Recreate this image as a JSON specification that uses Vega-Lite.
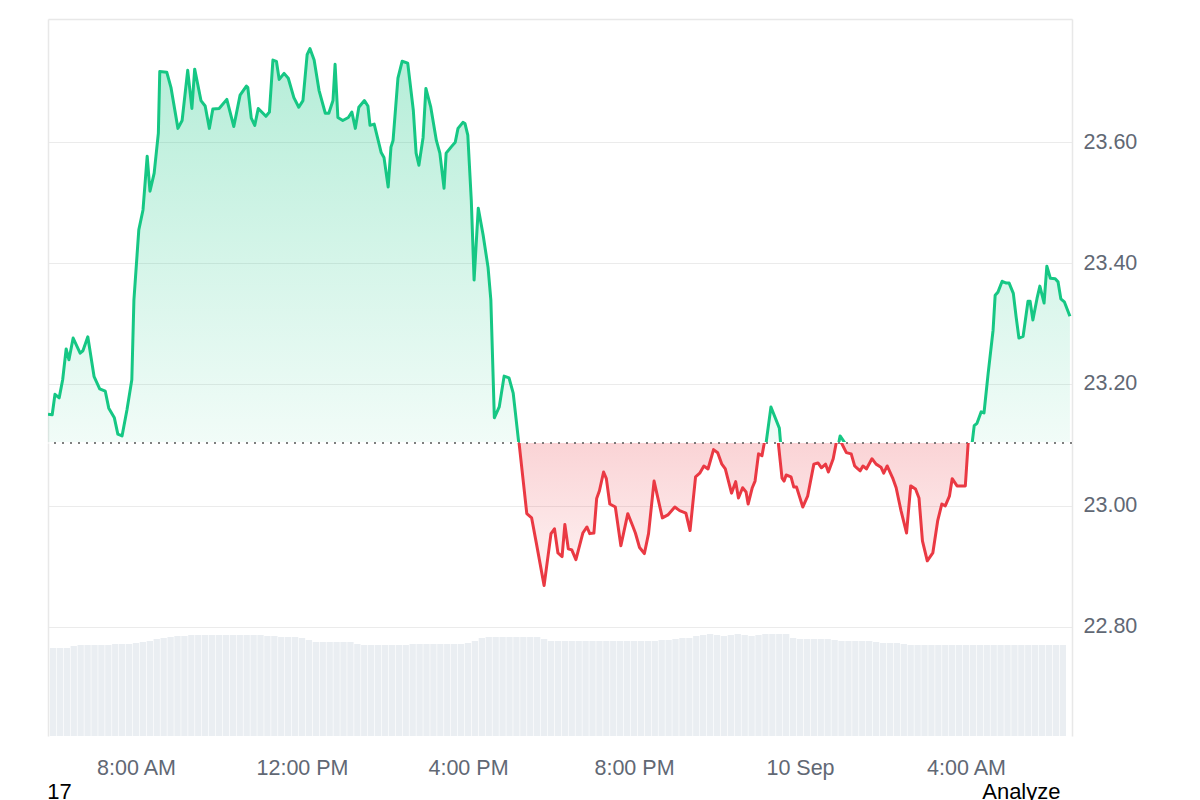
{
  "$schema": "https://vega.github.io/schema/vega-lite/v6.json",
  "padding": {"left": 47, "top": 19, "right": 0, "bottom": 0},
  "background": "white",
  "spacing": 0,
  "config": {
    "view": {"stroke": null},
    "axis": {"labelFont": "Liberation Sans", "titleFont": "Liberation Sans"},
    "title": {"font": "Liberation Sans"}
  },
  "title": {"text": "17", "orient": "bottom", "anchor": "start", "fontSize": 22, "fontWeight": "normal", "color": "#000000", "offset": 0, "dy": -21},
  "datasets": {
    "ref": [{"open": 23.104}],
    "price": [
      {"t":"2024-09-09T06:00","p":23.150},{"t":"2024-09-09T06:06","p":23.149},{"t":"2024-09-09T06:10","p":23.183},{"t":"2024-09-09T06:16","p":23.177},
      {"t":"2024-09-09T06:21","p":23.207},{"t":"2024-09-09T06:26","p":23.258},{"t":"2024-09-09T06:30","p":23.240},{"t":"2024-09-09T06:36","p":23.276},
      {"t":"2024-09-09T06:46","p":23.251},{"t":"2024-09-09T06:50","p":23.255},{"t":"2024-09-09T06:57","p":23.278},{"t":"2024-09-09T07:06","p":23.212},
      {"t":"2024-09-09T07:14","p":23.192},{"t":"2024-09-09T07:22","p":23.188},{"t":"2024-09-09T07:27","p":23.160},{"t":"2024-09-09T07:35","p":23.144},
      {"t":"2024-09-09T07:40","p":23.117},{"t":"2024-09-09T07:46","p":23.114},{"t":"2024-09-09T07:53","p":23.157},{"t":"2024-09-09T08:00","p":23.207},
      {"t":"2024-09-09T08:03","p":23.339},{"t":"2024-09-09T08:10","p":23.455},{"t":"2024-09-09T08:16","p":23.488},{"t":"2024-09-09T08:22","p":23.577},
      {"t":"2024-09-09T08:26","p":23.519},{"t":"2024-09-09T08:32","p":23.549},{"t":"2024-09-09T08:38","p":23.615},{"t":"2024-09-09T08:40","p":23.717},
      {"t":"2024-09-09T08:50","p":23.716},{"t":"2024-09-09T08:56","p":23.691},{"t":"2024-09-09T09:06","p":23.623},{"t":"2024-09-09T09:12","p":23.636},
      {"t":"2024-09-09T09:20","p":23.719},{"t":"2024-09-09T09:26","p":23.656},{"t":"2024-09-09T09:30","p":23.721},{"t":"2024-09-09T09:39","p":23.669},
      {"t":"2024-09-09T09:45","p":23.660},{"t":"2024-09-09T09:51","p":23.623},{"t":"2024-09-09T09:56","p":23.655},{"t":"2024-09-09T10:05","p":23.656},
      {"t":"2024-09-09T10:16","p":23.671},{"t":"2024-09-09T10:26","p":23.626},{"t":"2024-09-09T10:35","p":23.678},{"t":"2024-09-09T10:44","p":23.693},
      {"t":"2024-09-09T10:46","p":23.691},{"t":"2024-09-09T10:51","p":23.640},{"t":"2024-09-09T10:56","p":23.628},{"t":"2024-09-09T11:01","p":23.656},
      {"t":"2024-09-09T11:12","p":23.643},{"t":"2024-09-09T11:17","p":23.650},{"t":"2024-09-09T11:22","p":23.736},{"t":"2024-09-09T11:27","p":23.734},
      {"t":"2024-09-09T11:31","p":23.704},{"t":"2024-09-09T11:38","p":23.714},{"t":"2024-09-09T11:44","p":23.706},{"t":"2024-09-09T11:52","p":23.674},
      {"t":"2024-09-09T11:59","p":23.658},{"t":"2024-09-09T12:05","p":23.669},{"t":"2024-09-09T12:11","p":23.745},{"t":"2024-09-09T12:15","p":23.755},
      {"t":"2024-09-09T12:21","p":23.736},{"t":"2024-09-09T12:28","p":23.686},{"t":"2024-09-09T12:37","p":23.648},{"t":"2024-09-09T12:42","p":23.648},
      {"t":"2024-09-09T12:48","p":23.669},{"t":"2024-09-09T12:51","p":23.729},{"t":"2024-09-09T12:55","p":23.641},{"t":"2024-09-09T13:02","p":23.636},
      {"t":"2024-09-09T13:10","p":23.641},{"t":"2024-09-09T13:15","p":23.650},{"t":"2024-09-09T13:20","p":23.623},{"t":"2024-09-09T13:25","p":23.658},
      {"t":"2024-09-09T13:33","p":23.669},{"t":"2024-09-09T13:38","p":23.660},{"t":"2024-09-09T13:41","p":23.628},{"t":"2024-09-09T13:47","p":23.630},
      {"t":"2024-09-09T13:57","p":23.583},{"t":"2024-09-09T14:01","p":23.575},{"t":"2024-09-09T14:07","p":23.526},{"t":"2024-09-09T14:11","p":23.592},
      {"t":"2024-09-09T14:14","p":23.603},{"t":"2024-09-09T14:21","p":23.706},{"t":"2024-09-09T14:27","p":23.734},{"t":"2024-09-09T14:35","p":23.731},
      {"t":"2024-09-09T14:43","p":23.653},{"t":"2024-09-09T14:47","p":23.582},{"t":"2024-09-09T14:51","p":23.562},{"t":"2024-09-09T14:57","p":23.608},
      {"t":"2024-09-09T15:01","p":23.689},{"t":"2024-09-09T15:08","p":23.658},{"t":"2024-09-09T15:16","p":23.603},{"t":"2024-09-09T15:21","p":23.582},
      {"t":"2024-09-09T15:27","p":23.524},{"t":"2024-09-09T15:30","p":23.582},{"t":"2024-09-09T15:37","p":23.592},{"t":"2024-09-09T15:43","p":23.600},
      {"t":"2024-09-09T15:47","p":23.623},{"t":"2024-09-09T15:54","p":23.633},{"t":"2024-09-09T15:57","p":23.631},{"t":"2024-09-09T16:01","p":23.612},
      {"t":"2024-09-09T16:06","p":23.504},{"t":"2024-09-09T16:10","p":23.372},{"t":"2024-09-09T16:16","p":23.491},{"t":"2024-09-09T16:23","p":23.446},
      {"t":"2024-09-09T16:30","p":23.393},{"t":"2024-09-09T16:34","p":23.339},{"t":"2024-09-09T16:39","p":23.144},{"t":"2024-09-09T16:46","p":23.162},
      {"t":"2024-09-09T16:53","p":23.213},{"t":"2024-09-09T17:00","p":23.210},{"t":"2024-09-09T17:06","p":23.185},{"t":"2024-09-09T17:14","p":23.102},
      {"t":"2024-09-09T17:25","p":22.987},{"t":"2024-09-09T17:32","p":22.980},{"t":"2024-09-09T17:39","p":22.937},{"t":"2024-09-09T17:50","p":22.868},
      {"t":"2024-09-09T18:00","p":22.954},{"t":"2024-09-09T18:05","p":22.962},{"t":"2024-09-09T18:10","p":22.922},{"t":"2024-09-09T18:16","p":22.916},
      {"t":"2024-09-09T18:20","p":22.969},{"t":"2024-09-09T18:25","p":22.929},{"t":"2024-09-09T18:30","p":22.927},{"t":"2024-09-09T18:36","p":22.911},
      {"t":"2024-09-09T18:46","p":22.955},{"t":"2024-09-09T18:52","p":22.965},{"t":"2024-09-09T18:56","p":22.954},{"t":"2024-09-09T19:02","p":22.955},
      {"t":"2024-09-09T19:06","p":23.012},{"t":"2024-09-09T19:10","p":23.025},{"t":"2024-09-09T19:16","p":23.056},{"t":"2024-09-09T19:20","p":23.045},
      {"t":"2024-09-09T19:25","p":23.003},{"t":"2024-09-09T19:33","p":22.998},{"t":"2024-09-09T19:41","p":22.934},{"t":"2024-09-09T19:51","p":22.987},
      {"t":"2024-09-09T19:58","p":22.967},{"t":"2024-09-09T20:02","p":22.955},{"t":"2024-09-09T20:08","p":22.931},{"t":"2024-09-09T20:15","p":22.921},
      {"t":"2024-09-09T20:21","p":22.954},{"t":"2024-09-09T20:29","p":23.041},{"t":"2024-09-09T20:41","p":22.980},{"t":"2024-09-09T20:49","p":22.985},
      {"t":"2024-09-09T20:59","p":22.998},{"t":"2024-09-09T21:06","p":22.992},{"t":"2024-09-09T21:15","p":22.988},{"t":"2024-09-09T21:21","p":22.959},
      {"t":"2024-09-09T21:29","p":23.048},{"t":"2024-09-09T21:35","p":23.054},{"t":"2024-09-09T21:41","p":23.066},{"t":"2024-09-09T21:47","p":23.061},
      {"t":"2024-09-09T21:55","p":23.093},{"t":"2024-09-09T22:01","p":23.088},{"t":"2024-09-09T22:07","p":23.069},{"t":"2024-09-09T22:12","p":23.061},
      {"t":"2024-09-09T22:21","p":23.021},{"t":"2024-09-09T22:27","p":23.040},{"t":"2024-09-09T22:31","p":23.013},{"t":"2024-09-09T22:37","p":23.030},
      {"t":"2024-09-09T22:42","p":23.023},{"t":"2024-09-09T22:45","p":23.003},{"t":"2024-09-09T22:51","p":23.030},{"t":"2024-09-09T22:55","p":23.041},
      {"t":"2024-09-09T23:00","p":23.086},{"t":"2024-09-09T23:05","p":23.083},{"t":"2024-09-09T23:08","p":23.102},{"t":"2024-09-09T23:15","p":23.162},
      {"t":"2024-09-09T23:27","p":23.127},{"t":"2024-09-09T23:29","p":23.100},{"t":"2024-09-09T23:34","p":23.046},{"t":"2024-09-09T23:37","p":23.041},
      {"t":"2024-09-09T23:40","p":23.051},{"t":"2024-09-09T23:47","p":23.048},{"t":"2024-09-09T23:51","p":23.031},{"t":"2024-09-09T23:55","p":23.031},
      {"t":"2024-09-10T00:04","p":22.998},{"t":"2024-09-10T00:11","p":23.016},{"t":"2024-09-10T00:20","p":23.069},{"t":"2024-09-10T00:26","p":23.071},
      {"t":"2024-09-10T00:31","p":23.063},{"t":"2024-09-10T00:37","p":23.069},{"t":"2024-09-10T00:41","p":23.056},{"t":"2024-09-10T00:48","p":23.078},
      {"t":"2024-09-10T00:54","p":23.114},{"t":"2024-09-10T01:00","p":23.104},{"t":"2024-09-10T01:07","p":23.088},{"t":"2024-09-10T01:14","p":23.086},
      {"t":"2024-09-10T01:19","p":23.066},{"t":"2024-09-10T01:22","p":23.063},{"t":"2024-09-10T01:27","p":23.058},{"t":"2024-09-10T01:31","p":23.066},
      {"t":"2024-09-10T01:36","p":23.061},{"t":"2024-09-10T01:44","p":23.078},{"t":"2024-09-10T01:50","p":23.069},{"t":"2024-09-10T01:57","p":23.064},
      {"t":"2024-09-10T02:01","p":23.054},{"t":"2024-09-10T02:06","p":23.066},{"t":"2024-09-10T02:14","p":23.046},{"t":"2024-09-10T02:19","p":23.030},
      {"t":"2024-09-10T02:26","p":22.992},{"t":"2024-09-10T02:34","p":22.955},{"t":"2024-09-10T02:40","p":23.033},{"t":"2024-09-10T02:47","p":23.028},
      {"t":"2024-09-10T02:52","p":23.013},{"t":"2024-09-10T02:57","p":22.942},{"t":"2024-09-10T03:04","p":22.909},{"t":"2024-09-10T03:12","p":22.922},
      {"t":"2024-09-10T03:19","p":22.975},{"t":"2024-09-10T03:25","p":23.003},{"t":"2024-09-10T03:30","p":23.000},{"t":"2024-09-10T03:36","p":23.016},
      {"t":"2024-09-10T03:40","p":23.045},{"t":"2024-09-10T03:47","p":23.033},{"t":"2024-09-10T03:59","p":23.033},{"t":"2024-09-10T04:03","p":23.102},
      {"t":"2024-09-10T04:06","p":23.131},{"t":"2024-09-10T04:10","p":23.135},{"t":"2024-09-10T04:16","p":23.154},{"t":"2024-09-10T04:20","p":23.152},
      {"t":"2024-09-10T04:26","p":23.218},{"t":"2024-09-10T04:33","p":23.289},{"t":"2024-09-10T04:36","p":23.347},{"t":"2024-09-10T04:40","p":23.352},
      {"t":"2024-09-10T04:46","p":23.370},{"t":"2024-09-10T04:52","p":23.367},{"t":"2024-09-10T04:56","p":23.367},{"t":"2024-09-10T05:02","p":23.350},
      {"t":"2024-09-10T05:06","p":23.311},{"t":"2024-09-10T05:10","p":23.276},{"t":"2024-09-10T05:16","p":23.279},{"t":"2024-09-10T05:23","p":23.337},
      {"t":"2024-09-10T05:26","p":23.337},{"t":"2024-09-10T05:30","p":23.306},{"t":"2024-09-10T05:36","p":23.342},{"t":"2024-09-10T05:40","p":23.362},
      {"t":"2024-09-10T05:46","p":23.334},{"t":"2024-09-10T05:50","p":23.395},{"t":"2024-09-10T05:55","p":23.375},{"t":"2024-09-10T06:02","p":23.374},
      {"t":"2024-09-10T06:06","p":23.369},{"t":"2024-09-10T06:10","p":23.341},{"t":"2024-09-10T06:15","p":23.336},{"t":"2024-09-10T06:23","p":23.312}
    ],
    "volume": [
      {"t":"2024-09-09T06:00","v":88},{"t":"2024-09-09T06:10","v":88},{"t":"2024-09-09T06:20","v":88},{"t":"2024-09-09T06:30","v":90},
      {"t":"2024-09-09T06:40","v":91},{"t":"2024-09-09T06:50","v":91},{"t":"2024-09-09T07:00","v":91},{"t":"2024-09-09T07:10","v":91},
      {"t":"2024-09-09T07:20","v":91},{"t":"2024-09-09T07:30","v":92},{"t":"2024-09-09T07:40","v":92},{"t":"2024-09-09T07:50","v":92},
      {"t":"2024-09-09T08:00","v":93},{"t":"2024-09-09T08:10","v":94},{"t":"2024-09-09T08:20","v":95},{"t":"2024-09-09T08:30","v":97},
      {"t":"2024-09-09T08:40","v":98},{"t":"2024-09-09T08:50","v":99},{"t":"2024-09-09T09:00","v":100},{"t":"2024-09-09T09:10","v":100},
      {"t":"2024-09-09T09:20","v":101},{"t":"2024-09-09T09:30","v":101},{"t":"2024-09-09T09:40","v":101},{"t":"2024-09-09T09:50","v":101},
      {"t":"2024-09-09T10:00","v":101},{"t":"2024-09-09T10:10","v":101},{"t":"2024-09-09T10:20","v":101},{"t":"2024-09-09T10:30","v":101},
      {"t":"2024-09-09T10:40","v":101},{"t":"2024-09-09T10:50","v":101},{"t":"2024-09-09T11:00","v":101},{"t":"2024-09-09T11:10","v":100},
      {"t":"2024-09-09T11:20","v":100},{"t":"2024-09-09T11:30","v":99},{"t":"2024-09-09T11:40","v":99},{"t":"2024-09-09T11:50","v":99},
      {"t":"2024-09-09T12:00","v":98},{"t":"2024-09-09T12:10","v":96},{"t":"2024-09-09T12:20","v":94},{"t":"2024-09-09T12:30","v":94},
      {"t":"2024-09-09T12:40","v":94},{"t":"2024-09-09T12:50","v":94},{"t":"2024-09-09T13:00","v":94},{"t":"2024-09-09T13:10","v":94},
      {"t":"2024-09-09T13:20","v":92},{"t":"2024-09-09T13:30","v":91},{"t":"2024-09-09T13:40","v":91},{"t":"2024-09-09T13:50","v":91},
      {"t":"2024-09-09T14:00","v":91},{"t":"2024-09-09T14:10","v":91},{"t":"2024-09-09T14:20","v":91},{"t":"2024-09-09T14:30","v":91},
      {"t":"2024-09-09T14:40","v":92},{"t":"2024-09-09T14:50","v":92},{"t":"2024-09-09T15:00","v":92},{"t":"2024-09-09T15:10","v":92},
      {"t":"2024-09-09T15:20","v":92},{"t":"2024-09-09T15:30","v":92},{"t":"2024-09-09T15:40","v":92},{"t":"2024-09-09T15:50","v":92},
      {"t":"2024-09-09T16:00","v":93},{"t":"2024-09-09T16:10","v":95},{"t":"2024-09-09T16:20","v":98},{"t":"2024-09-09T16:30","v":99},
      {"t":"2024-09-09T16:40","v":99},{"t":"2024-09-09T16:50","v":99},{"t":"2024-09-09T17:00","v":99},{"t":"2024-09-09T17:10","v":99},
      {"t":"2024-09-09T17:20","v":99},{"t":"2024-09-09T17:30","v":99},{"t":"2024-09-09T17:40","v":99},{"t":"2024-09-09T17:50","v":97},
      {"t":"2024-09-09T18:00","v":95},{"t":"2024-09-09T18:10","v":95},{"t":"2024-09-09T18:20","v":95},{"t":"2024-09-09T18:30","v":95},
      {"t":"2024-09-09T18:40","v":95},{"t":"2024-09-09T18:50","v":95},{"t":"2024-09-09T19:00","v":95},{"t":"2024-09-09T19:10","v":95},
      {"t":"2024-09-09T19:20","v":95},{"t":"2024-09-09T19:30","v":95},{"t":"2024-09-09T19:40","v":95},{"t":"2024-09-09T19:50","v":95},
      {"t":"2024-09-09T20:00","v":95},{"t":"2024-09-09T20:10","v":95},{"t":"2024-09-09T20:20","v":95},{"t":"2024-09-09T20:30","v":95},
      {"t":"2024-09-09T20:40","v":96},{"t":"2024-09-09T20:50","v":96},{"t":"2024-09-09T21:00","v":97},{"t":"2024-09-09T21:10","v":98},
      {"t":"2024-09-09T21:20","v":98},{"t":"2024-09-09T21:30","v":100},{"t":"2024-09-09T21:40","v":101},{"t":"2024-09-09T21:50","v":102},
      {"t":"2024-09-09T22:00","v":101},{"t":"2024-09-09T22:10","v":100},{"t":"2024-09-09T22:20","v":101},{"t":"2024-09-09T22:30","v":102},
      {"t":"2024-09-09T22:40","v":101},{"t":"2024-09-09T22:50","v":100},{"t":"2024-09-09T23:00","v":101},{"t":"2024-09-09T23:10","v":102},
      {"t":"2024-09-09T23:20","v":102},{"t":"2024-09-09T23:30","v":102},{"t":"2024-09-09T23:40","v":102},{"t":"2024-09-09T23:50","v":98},
      {"t":"2024-09-10T00:00","v":97},{"t":"2024-09-10T00:10","v":97},{"t":"2024-09-10T00:20","v":97},{"t":"2024-09-10T00:30","v":97},
      {"t":"2024-09-10T00:40","v":97},{"t":"2024-09-10T00:50","v":96},{"t":"2024-09-10T01:00","v":95},{"t":"2024-09-10T01:10","v":95},
      {"t":"2024-09-10T01:20","v":95},{"t":"2024-09-10T01:30","v":95},{"t":"2024-09-10T01:40","v":95},{"t":"2024-09-10T01:50","v":94},
      {"t":"2024-09-10T02:00","v":93},{"t":"2024-09-10T02:10","v":93},{"t":"2024-09-10T02:20","v":93},{"t":"2024-09-10T02:30","v":92},
      {"t":"2024-09-10T02:40","v":91},{"t":"2024-09-10T02:50","v":91},{"t":"2024-09-10T03:00","v":91},{"t":"2024-09-10T03:10","v":91},
      {"t":"2024-09-10T03:20","v":91},{"t":"2024-09-10T03:30","v":91},{"t":"2024-09-10T03:40","v":91},{"t":"2024-09-10T03:50","v":91},
      {"t":"2024-09-10T04:00","v":91},{"t":"2024-09-10T04:10","v":91},{"t":"2024-09-10T04:20","v":91},{"t":"2024-09-10T04:30","v":91},
      {"t":"2024-09-10T04:40","v":91},{"t":"2024-09-10T04:50","v":91},{"t":"2024-09-10T05:00","v":91},{"t":"2024-09-10T05:10","v":91},
      {"t":"2024-09-10T05:20","v":91},{"t":"2024-09-10T05:30","v":91},{"t":"2024-09-10T05:40","v":91},{"t":"2024-09-10T05:50","v":91},
      {"t":"2024-09-10T06:00","v":91},{"t":"2024-09-10T06:10","v":91},{"t":"2024-09-10T06:20","v":91}
    ]
  },
  "vconcat": [
    {
      "width": 1024,
      "height": 423,
      "layer": [
        {
          "data": {"name": "price"},
          "mark": {
            "type": "area",
            "clip": true,
            "fill": {
              "gradient": "linear", "x1": 0, "y1": 0, "x2": 0, "y2": 1,
              "stops": [
                {"offset": 0, "color": "rgba(22,199,132,0.32)"},
                {"offset": 0.734, "color": "rgba(22,199,132,0.06)"},
                {"offset": 1, "color": "rgba(22,199,132,0.06)"}
              ]
            }
          },
          "encoding": {
            "x": {
              "field": "t", "type": "temporal",
              "scale": {"domain": [{"year": 2024, "month": 9, "date": 9, "hours": 6, "minutes": 0}, {"year": 2024, "month": 9, "date": 10, "hours": 6, "minutes": 26}], "nice": false},
              "axis": {"orient": "top", "labels": false, "ticks": false, "grid": false, "domain": true, "domainColor": "#e8e8e8", "domainWidth": 1.5, "title": null}
            },
            "y": {
              "field": "p", "type": "quantitative",
              "scale": {"domain": [23.104, 23.804], "nice": false, "zero": false},
              "axis": {"orient": "right", "values": [23.2, 23.4, 23.6], "format": ".2f", "grid": true, "gridColor": "#ebebeb", "gridWidth": 1, "ticks": false, "domain": true, "domainColor": "#e8e8e8", "domainWidth": 1.5, "labelFontSize": 21.5, "labelColor": "#616874", "labelPadding": 11, "title": null}
            },
            "y2": {"datum": 23.104}
          }
        },
        {
          "data": {"name": "price"},
          "mark": {"type": "line", "clip": true, "color": "#16c784", "strokeWidth": 3, "strokeJoin": "round"},
          "encoding": {
            "x": {"field": "t", "type": "temporal"},
            "y": {
              "field": "p", "type": "quantitative",
              "scale": {"domain": [23.104, 23.804], "nice": false, "zero": false},
              "axis": {"orient": "left", "labels": false, "ticks": false, "grid": false, "domain": true, "domainColor": "#e8e8e8", "domainWidth": 1.5, "title": null}
            }
          }
        }
      ],
      "resolve": {"scale": {"y": "independent"}}
    },
    {
      "width": 1024,
      "height": 293,
      "layer": [
        {
          "data": {"name": "volume"},
          "mark": {"type": "bar", "size": 6.3, "color": "#eaeef2", "clip": true},
          "encoding": {
            "x": {
              "field": "t", "type": "temporal",
              "scale": {"domain": [{"year": 2024, "month": 9, "date": 9, "hours": 6, "minutes": 0}, {"year": 2024, "month": 9, "date": 10, "hours": 6, "minutes": 26}], "nice": false},
              "axis": {
                "orient": "bottom",
                "values": [
                  {"year": 2024, "month": 9, "date": 9, "hours": 8},
                  {"year": 2024, "month": 9, "date": 9, "hours": 12},
                  {"year": 2024, "month": 9, "date": 9, "hours": 16},
                  {"year": 2024, "month": 9, "date": 9, "hours": 20},
                  {"year": 2024, "month": 9, "date": 10, "hours": 0},
                  {"year": 2024, "month": 9, "date": 10, "hours": 4}
                ],
                "labelExpr": "hours(datum.value) == 0 ? timeFormat(datum.value, '%-d %b') : timeFormat(datum.value, '%-I:%M %p')",
                "domain": false, "ticks": false, "grid": false,
                "labelFontSize": 21.5, "labelColor": "#616874", "labelPadding": 21,
                "title": "Analyze", "titleFontSize": 22, "titleFontWeight": "normal", "titleColor": "#000000",
                "titleAnchor": "end", "titleAlign": "right", "titleX": 1012, "titlePadding": 3
              }
            },
            "y": {"field": "v", "type": "quantitative", "scale": {"domain": [0, 293]}, "axis": null}
          }
        },
        {
          "data": {"name": "price"},
          "mark": {
            "type": "area",
            "clip": true,
            "fill": {
              "gradient": "linear", "x1": 0, "y1": 0, "x2": 0, "y2": 1,
              "stops": [
                {"offset": 0, "color": "rgba(234,57,67,0.22)"},
                {"offset": 0.734, "color": "rgba(234,57,67,0.22)"},
                {"offset": 1, "color": "rgba(234,57,67,0.06)"}
              ]
            }
          },
          "encoding": {
            "x": {"field": "t", "type": "temporal"},
            "y": {
              "field": "p", "type": "quantitative",
              "scale": {"domain": [22.619, 23.104], "nice": false, "zero": false},
              "axis": {"orient": "right", "values": [22.8, 23.0], "format": ".2f", "grid": true, "gridColor": "#ebebeb", "gridWidth": 1, "ticks": false, "domain": true, "domainColor": "#e8e8e8", "domainWidth": 1.5, "labelFontSize": 21.5, "labelColor": "#616874", "labelPadding": 11, "title": null}
            },
            "y2": {"datum": 23.104}
          }
        },
        {
          "data": {"name": "ref"},
          "mark": {"type": "rule", "color": "#555555", "strokeWidth": 1.5, "strokeDash": [2, 6]},
          "encoding": {
            "y": {"field": "open", "type": "quantitative", "scale": {"domain": [22.619, 23.104], "nice": false, "zero": false}, "axis": null}
          }
        },
        {
          "data": {"name": "price"},
          "mark": {"type": "line", "clip": true, "color": "#ea3943", "strokeWidth": 3, "strokeJoin": "round"},
          "encoding": {
            "x": {"field": "t", "type": "temporal"},
            "y": {
              "field": "p", "type": "quantitative",
              "scale": {"domain": [22.619, 23.104], "nice": false, "zero": false},
              "axis": {"orient": "left", "labels": false, "ticks": false, "grid": false, "domain": true, "domainColor": "#e8e8e8", "domainWidth": 1.5, "title": null}
            }
          }
        }
      ],
      "resolve": {"scale": {"y": "independent"}}
    }
  ]
}
